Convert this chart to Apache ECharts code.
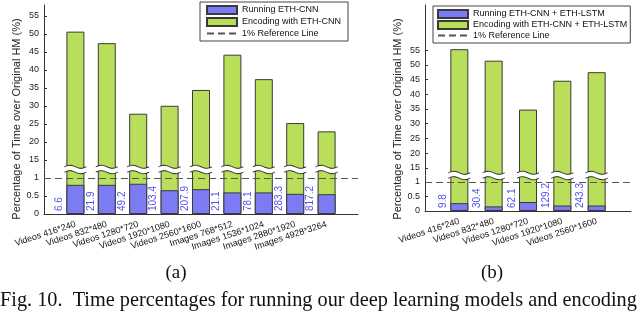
<!DOCTYPE html>
<html>
<head>
<meta charset="utf-8">
<script src="https://cdn.jsdelivr.net/npm/echarts@6/dist/echarts.min.js"></script>
<style>html,body{margin:0;padding:0;background:#fff}#c{width:640px;height:312px}</style>
</head>
<body>
<div id="c"></div>
<script>
// ---- data ----
const catsA = ['Videos 416*240','Videos 832*480','Videos 1280*720','Videos 1920*1080','Videos 2560*1600','Images 768*512','Images 1536*1024','Images 2880*1920','Images 4928*3264'];
const encA = [50.6, 47.4, 27.8, 30.0, 34.4, 44.2, 37.4, 25.2, 22.9];
const runA = [0.81, 0.81, 0.84, 0.66, 0.69, 0.60, 0.60, 0.56, 0.55];
const runLabelsA = ['6.6','21.9','49.2','103.4','207.9','21.1','78.1','283.3','817.2'];

const catsB = ['Videos 416*240','Videos 832*480','Videos 1280*720','Videos 1920*1080','Videos 2560*1600'];
const encB = [55.3, 51.4, 34.8, 44.6, 47.5];
const runB = [0.27, 0.16, 0.31, 0.19, 0.19];
const runLabelsB = ['9.8','30.4','62.1','129.2','243.3'];

const upperTicks = [15, 20, 25, 30, 35, 40, 45, 50, 55];
const lowerTicks = [0, 0.5, 1];
const refLine = 1;

const namesA = ['Running ETH-CNN', 'Encoding with ETH-CNN'];
const namesB = ['Running ETH-CNN + ETH-LSTM', 'Encoding with ETH-CNN + ETH-LSTM'];
const refName = '1% Reference Line';
const yTitle = 'Percentage of Time over Original HM (%)';
const caption = 'Fig. 10.  Time percentages for running our deep learning models and encoding';

// ---- styles ----
const FONT = '"Liberation Sans", Arial, Helvetica, sans-serif';
const SERIF = '"Liberation Serif", "Times New Roman", serif';
const BLUE = '#7b7bf4';
const GREEN = '#b8de5a';
const EDGE = '#3a3a3a';
const AX = '#333';
const CLEAR = 'rgba(0,0,0,0)';

const chart = echarts.init(document.getElementById('c'), null, {renderer: 'canvas'});

const pts = (arr) => arr.map((v, i) => [i + 1, v]);
const pos = (arr) => arr.map((v, i) => [i + 1, 0]);

function yAxisCfg(gi, min, max, ticks) {
  return {
    type: 'value', gridIndex: gi, min: min, max: max,
    axisLine: {show: true, lineStyle: {color: AX, width: 1}},
    axisTick: {show: true, inside: true, length: 3, customValues: ticks, lineStyle: {color: AX}},
    axisLabel: {show: true, customValues: ticks, margin: 5, fontSize: 9, color: '#222', fontFamily: FONT},
    splitLine: {show: false}
  };
}
function xHidden(gi, max) {
  return {type: 'value', gridIndex: gi, min: 0, max: max, show: false};
}
function xShown(gi, max, cats) {
  return {
    type: 'value', gridIndex: gi, min: 0, max: max, interval: 1,
    axisLine: {show: true, onZero: false, lineStyle: {color: AX, width: 1}},
    axisTick: {show: false},
    splitLine: {show: false},
    axisLabel: {
      rotate: 18, margin: 10, fontSize: 9, color: '#111', fontFamily: FONT,
      showMinLabel: true, showMaxLabel: true,
      formatter: (v) => cats[v - 1] || ''
    }
  };
}
function breakSeries(xi, yi, n) {
  return {
    type: 'custom', xAxisIndex: xi, yAxisIndex: yi, z: 5, silent: true,
    data: n,
    renderItem: function (params, api) {
      const cx = api.coord([api.value(0), 0])[0];
      const yTop = params.coordSys.y;
      const hw = 11;
      const c1 = yTop - 3.2, c2 = yTop + 2.2;
      const w1 = [], w2 = [];
      for (let k = 0; k <= 20; k++) {
        const t = k / 20;
        const x = cx - hw + 2 * hw * t;
        const d = 1.5 * Math.sin(2 * Math.PI * t);
        w1.push([x, c1 - d]);
        w2.push([x, c2 - d]);
      }
      return {
        type: 'group',
        children: [
          {type: 'polygon', shape: {points: w1.concat(w2.slice().reverse())}, style: {fill: '#fff', stroke: null}},
          {type: 'polyline', shape: {points: w1}, style: {stroke: '#222', lineWidth: 1, fill: null}},
          {type: 'polyline', shape: {points: w2}, style: {stroke: '#222', lineWidth: 1, fill: null}}
        ]
      };
    }
  };
}
function runLabel(labels) {
  return {
    show: true, position: [-2, '100%'], rotate: 90, align: 'left', verticalAlign: 'bottom',
    padding: [0, 0, 0, 3],
    formatter: (p) => labels[p.dataIndex],
    color: '#5252ee', fontSize: 10, fontFamily: FONT
  };
}
function refSeries(xi, yi) {
  return {
    type: 'line', name: refName, xAxisIndex: xi, yAxisIndex: yi, data: [], symbol: 'none', z: 4,
    itemStyle: {color: '#555'},
    lineStyle: {color: '#555', width: 1.2, type: [7, 4]},
    markLine: {
      silent: true, symbol: ['none', 'none'], label: {show: false},
      lineStyle: {color: '#555', width: 1.2, type: [7, 4]},
      data: [{yAxis: refLine}]
    }
  };
}
const barStyle = (c) => ({color: c, borderColor: EDGE, borderWidth: 1});
const refLegendItem = {name: refName, itemStyle: {color: CLEAR, borderColor: CLEAR, borderWidth: 0, opacity: 0}};

const option = {
  animation: false,
  backgroundColor: '#fff',
  grid: [
    {left: 44, top: 5, width: 314, height: 164, outerBoundsMode: 'none'},
    {left: 44, top: 170, width: 314, height: 44, outerBoundsMode: 'none'},
    {left: 425, top: 5, width: 206, height: 170, outerBoundsMode: 'none'},
    {left: 425, top: 176, width: 206, height: 35, outerBoundsMode: 'none'}
  ],
  xAxis: [xHidden(0, 10), xShown(1, 10, catsA), xHidden(2, 6), xShown(3, 6, catsB)],
  yAxis: [
    yAxisCfg(0, 12.44, 58, upperTicks),
    yAxisCfg(1, 0, 1.222, lowerTicks),
    yAxisCfg(2, 12.6, 70.3, upperTicks),
    yAxisCfg(3, 0, 1.207, lowerTicks)
  ],
  legend: [
    {
      left: 200, top: 2, orient: 'vertical', itemWidth: 30, itemHeight: 8, itemGap: 2,
      padding: [3, 7, 3, 6], borderColor: '#444', borderWidth: 1, backgroundColor: '#fff',
      selectedMode: false, textStyle: {fontSize: 9, color: '#111', fontFamily: FONT},
      data: [{name: namesA[0], icon: 'rect'}, {name: namesA[1], icon: 'rect'}, refLegendItem]
    },
    {
      left: 433, top: 6, orient: 'vertical', itemWidth: 30, itemHeight: 8, itemGap: 1,
      padding: [3, 3, 3, 4], borderColor: '#444', borderWidth: 1, backgroundColor: '#fff',
      selectedMode: false, textStyle: {fontSize: 9, color: '#111', fontFamily: FONT},
      data: [{name: namesB[0], icon: 'rect'}, {name: namesB[1], icon: 'rect'}, refLegendItem]
    }
  ],
  series: [
    {type: 'bar', name: namesA[1], xAxisIndex: 0, yAxisIndex: 0, barWidth: 18, data: pts(encA), itemStyle: barStyle(GREEN), clip: true},
    {type: 'bar', name: namesA[1], xAxisIndex: 1, yAxisIndex: 1, barWidth: 18, barGap: '-100%', data: pts(encA), itemStyle: barStyle(GREEN), clip: true},
    {type: 'bar', name: namesA[0], xAxisIndex: 1, yAxisIndex: 1, barWidth: 18, barGap: '-100%', data: pts(runA), itemStyle: barStyle(BLUE), label: runLabel(runLabelsA)},
    breakSeries(1, 1, pos(encA)),
    refSeries(1, 1),

    {type: 'bar', name: namesB[1], xAxisIndex: 2, yAxisIndex: 2, barWidth: 18, data: pts(encB), itemStyle: barStyle(GREEN), clip: true},
    {type: 'bar', name: namesB[1], xAxisIndex: 3, yAxisIndex: 3, barWidth: 18, barGap: '-100%', data: pts(encB), itemStyle: barStyle(GREEN), clip: true},
    {type: 'bar', name: namesB[0], xAxisIndex: 3, yAxisIndex: 3, barWidth: 18, barGap: '-100%', data: pts(runB), itemStyle: barStyle(BLUE), label: runLabel(runLabelsB)},
    breakSeries(3, 3, pos(encB)),
    refSeries(3, 3)
  ],
  graphic: [
    {type: 'text', x: 17, y: 119, rotation: Math.PI / 2, silent: true,
     style: {text: yTitle, fontSize: 11, fontFamily: FONT, fill: '#222', align: 'center', verticalAlign: 'middle'}},
    {type: 'text', x: 398, y: 119, rotation: Math.PI / 2, silent: true,
     style: {text: yTitle, fontSize: 11, fontFamily: FONT, fill: '#222', align: 'center', verticalAlign: 'middle'}},
    {type: 'text', x: 176, y: 273, silent: true,
     style: {text: '(a)', fontSize: 19, fontFamily: SERIF, fill: '#111', align: 'center', verticalAlign: 'middle'}},
    {type: 'text', x: 492, y: 273, silent: true,
     style: {text: '(b)', fontSize: 19, fontFamily: SERIF, fill: '#111', align: 'center', verticalAlign: 'middle'}},
    {type: 'text', x: 0, y: 311, silent: true,
     style: {text: caption, fontSize: 20.3, fontFamily: SERIF, fill: '#111', align: 'left', verticalAlign: 'bottom'}}
  ]
};
chart.setOption(option);
</script>
</body>
</html>
